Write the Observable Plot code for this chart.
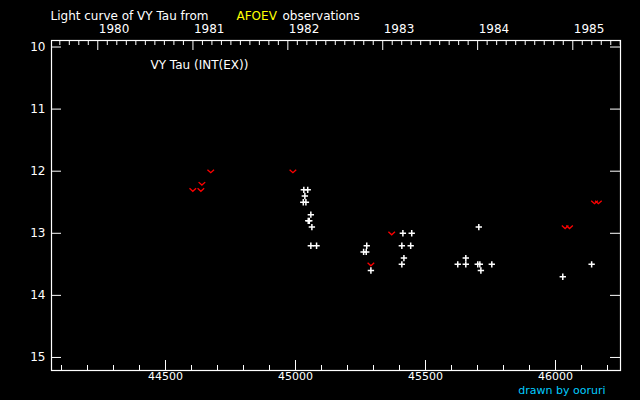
<!DOCTYPE html>
<html>
<head>
<meta charset="utf-8">
<script src="https://cdn.jsdelivr.net/npm/d3@7"></script>
<script src="https://cdn.jsdelivr.net/npm/@observablehq/plot@0.6"></script>
<style>
  html, body { margin: 0; padding: 0; background: #000; }
  #chart svg { display: block; }
</style>
</head>
<body>
<div id="chart"></div>
<script>
// ---- data (JD - 2400000, visual magnitude) ----
const obsJD  = [45032, 45047, 45036, 45030, 45040, 45059, 45049, 45053, 45063, 45059, 45081,
                45274, 45262, 45272, 45290, 45409, 45417, 45409, 45443, 45413, 45447,
                45624, 45655, 45655, 45701, 45709, 45705, 45713, 45755, 46028, 46139];
const obsMag = [12.3, 12.3, 12.4, 12.5, 12.5, 12.7, 12.8, 12.8, 12.9, 13.2, 13.2,
                13.2, 13.3, 13.3, 13.6, 13.5, 13.4, 13.2, 13.2, 13.0, 13.0,
                13.5, 13.5, 13.4, 13.5, 13.5, 12.9, 13.6, 13.5, 13.7, 13.5];
// "fainter than" estimates
const fntJD  = [44605, 44636, 44640, 44674, 44990, 45290, 45370, 46037, 46054, 46150, 46165];
const fntMag = [12.3, 12.3, 12.2, 12.0, 12.0, 13.5, 13.0, 12.9, 12.9, 12.5, 12.5];

// ---- tick labels ----
const xLabelTicks = [44500, 45000, 45500, 46000];
const yLabelTicks = [10, 11, 12, 13, 14, 15];
const yearLabels = [1980, 1981, 1982, 1983, 1984, 1985];
const titleText = "Light curve of VY Tau from";
const titleSource = "AFOEV";
const titleTail = "observations";
const starLabel = "VY Tau (INT(EX))";
const credit = "drawn by ooruri";

const obs = obsJD.map((jd, i) => ({jd, mag: obsMag[i]}));
const fnt = fntJD.map((jd, i) => ({jd, mag: fntMag[i]}));

const W = 640, H = 400, mT = 40, mR = 20, mB = 30, mL = 51;
const frameW = W - mL - mR, frameH = H - mT - mB;
const xDomain = [44061.5, 46250];

const jdOf = (y) => Date.UTC(y, 0, 1) / 86400000 + 2440587.5 - 2400000;
const yearTicks = yearLabels.map(y => ({jd: jdOf(y), label: String(y)}));
const topMinor = [];
for (let y = 1979; y <= 1985; y++) {
  const a = jdOf(y), b = jdOf(y + 1);
  for (let k = 1; k < 10; k++) {
    const v = a + (b - a) * k / 10;
    if (v > xDomain[0] && v < xDomain[1]) topMinor.push(v);
  }
}
const topMajor = yearTicks.map(d => d.jd);
const bottomMinor = d3.range(44100, 46250, 100).filter(v => v % 500 !== 0);

const vee = {
  draw(ctx, size) {
    const r = Math.sqrt(size / Math.PI);
    ctx.moveTo(-r, -r * 0.45);
    ctx.lineTo(0, r * 0.45);
    ctx.lineTo(r, -r * 0.45);
  }
};

const chart = Plot.plot({
  width: W, height: H,
  marginTop: mT, marginRight: mR, marginBottom: mB, marginLeft: mL,
  style: {background: "#000", color: "#fff", fontFamily: "DejaVu Sans", fontSize: "12px"},
  x: {domain: xDomain, axis: null, label: null},
  y: {domain: [9.895, 15.21], reverse: true, axis: null, label: null},
  marks: [
    Plot.frame({stroke: "#fff", strokeWidth: 1.2}),
    // bottom ticks (inward)
    Plot.tickX(bottomMinor, {x: d => d, insetTop: frameH - 5, stroke: "#fff"}),
    Plot.tickX(xLabelTicks, {x: d => d, insetTop: frameH - 10, stroke: "#fff"}),
    // top ticks (inward)
    Plot.tickX(topMinor, {x: d => d, insetBottom: frameH - 5, stroke: "#fff"}),
    Plot.tickX(topMajor, {x: d => d, insetBottom: frameH - 10, stroke: "#fff"}),
    // left / right ticks (inward)
    Plot.tickY(yLabelTicks, {y: d => d, insetRight: frameW - 10, stroke: "#fff"}),
    Plot.tickY(yLabelTicks, {y: d => d, insetLeft: frameW - 10, stroke: "#fff"}),
    Plot.axisX({anchor: "bottom", ticks: xLabelTicks, tickSize: 0, tickPadding: 2, fontSize: 11, tickFormat: d => String(d), fill: "#fff", label: null}),
    Plot.axisY({anchor: "left", ticks: yLabelTicks, tickSize: 0, tickPadding: 6, tickFormat: d => String(d), fill: "#fff", label: null}),
    Plot.text(yearTicks, {x: "jd", text: "label", frameAnchor: "top", textAnchor: "start", lineAnchor: "bottom", dy: -8, dx: 1, fill: "#fff"}),
    // data
    Plot.dot(obs, {x: "jd", y: "mag", symbol: "plus", r: 2.2, stroke: "#fff", strokeWidth: 1.5}),
    Plot.dot(fnt, {x: "jd", y: "mag", symbol: vee, r: 3.3, stroke: "#ff0000", fill: "none", strokeWidth: 1.3}),
    // annotations
    Plot.text([starLabel], {text: d => d, frameAnchor: "top-left", textAnchor: "start", dx: 99, dy: 20, fill: "#fff"}),
    Plot.text([titleText], {text: d => d, frameAnchor: "top-left", textAnchor: "start", dx: -1, dy: -29, fill: "#fff"}),
    Plot.text([titleSource], {text: d => d, frameAnchor: "top-left", textAnchor: "start", dx: 185, dy: -29, fill: "#ffff00"}),
    Plot.text([titleTail], {text: d => d, frameAnchor: "top-left", textAnchor: "start", dx: 231, dy: -29, fill: "#fff"}),
    Plot.text([credit], {text: d => d, frameAnchor: "bottom-right", textAnchor: "end", dx: -15, dy: 23.5, fontSize: 11, fill: "#00ccff"})
  ]
});
document.getElementById("chart").appendChild(chart);
</script>
</body>
</html>
